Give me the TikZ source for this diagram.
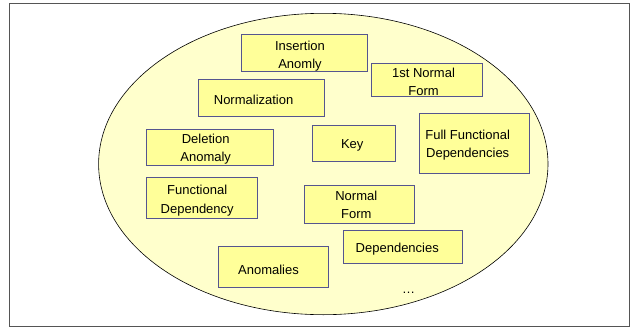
\documentclass[tikz,border=0pt]{standalone}
\usepackage{fontspec}
\setmainfont{Liberation Sans}
\begin{document}
\begin{tikzpicture}[x=1pt,y=-1pt,
  conceptbox/.style={draw=boxline, fill=boxfill, line width=0.8pt, rectangle, inner sep=0pt},
  concepttext/.style={align=center, inner sep=0pt, font=\fontsize{13}{17.8}\selectfont},
]
\definecolor{boxfill}{HTML}{FFFF99}
\definecolor{boxline}{HTML}{55558F}
\definecolor{setfill}{HTML}{FFFFCC}
\definecolor{framegray}{HTML}{555555}
\useasboundingbox (0,0) rectangle (632,330);
% outer frame
\draw[framegray, line width=0.8pt] (9,3.5) rectangle (629,326.5);
% the surrounding set of concepts
\draw[fill=setfill, line width=0.6pt] (323.3,164) ellipse [x radius=224.7, y radius=150.7];
% concept boxes
\node[conceptbox, minimum width=126, minimum height=37.3] (ins) at (304.5,53) {};
\node[conceptbox, minimum width=111, minimum height=33.5] (first) at (426.5,79.8) {};
\node[conceptbox, minimum width=126, minimum height=37] (norm) at (261,97.8) {};
\node[conceptbox, minimum width=127, minimum height=36] (del) at (209.5,147) {};
\node[conceptbox, minimum width=83, minimum height=36.6] (key) at (353.5,143.3) {};
\node[conceptbox, minimum width=110, minimum height=60] (ffd) at (474,143) {};
\node[conceptbox, minimum width=111, minimum height=41] (fd) at (201.5,197.5) {};
\node[conceptbox, minimum width=110.6, minimum height=38] (nf) at (359.3,204.4) {};
\node[conceptbox, minimum width=119.5, minimum height=33] (dep) at (402.8,246.5) {};
\node[conceptbox, minimum width=110, minimum height=41] (anom) at (273,267) {};
% box labels, set slightly off-centre as in the original slide
\node[concepttext] (ins-t) at ([shift={(-4.5,3.2)}]ins.center) {Insertion\\Anomly};
\node[concepttext] (first-t) at ([shift={(-3,1.7)}]first.center) {1st Normal\\Form};
\node[concepttext] (norm-t) at ([shift={(-7.4,2.3)}]norm.center) {Normalization};
\node[concepttext] (del-t) at ([shift={(-3.8,2.5)}]del.center) {Deletion\\Anomaly};
\node[concepttext] (key-t) at ([shift={(-1.3,2.5)}]key.center) {Key};
\node[concepttext] (ffd-t) at ([shift={(-6.3,2.3)}]ffd.center) {Full Functional\\Dependencies};
\node[concepttext, font=\fontsize{13}{19.5}\selectfont] (fd-t) at ([shift={(-4.3,3)}]fd.center) {Functional\\Dependency};
\node[concepttext] (nf-t) at ([shift={(-3,0.2)}]nf.center) {Normal\\Form};
\node[concepttext] (dep-t) at ([shift={(-5.5,2.4)}]dep.center) {Dependencies};
\node[concepttext] (anom-t) at ([shift={(-4.5,3)}]anom.center) {Anomalies};
\node[font=\fontsize{13}{15}\selectfont, inner sep=0pt] (more) at (408.5,293) {\dots};
\end{tikzpicture}
\end{document}
